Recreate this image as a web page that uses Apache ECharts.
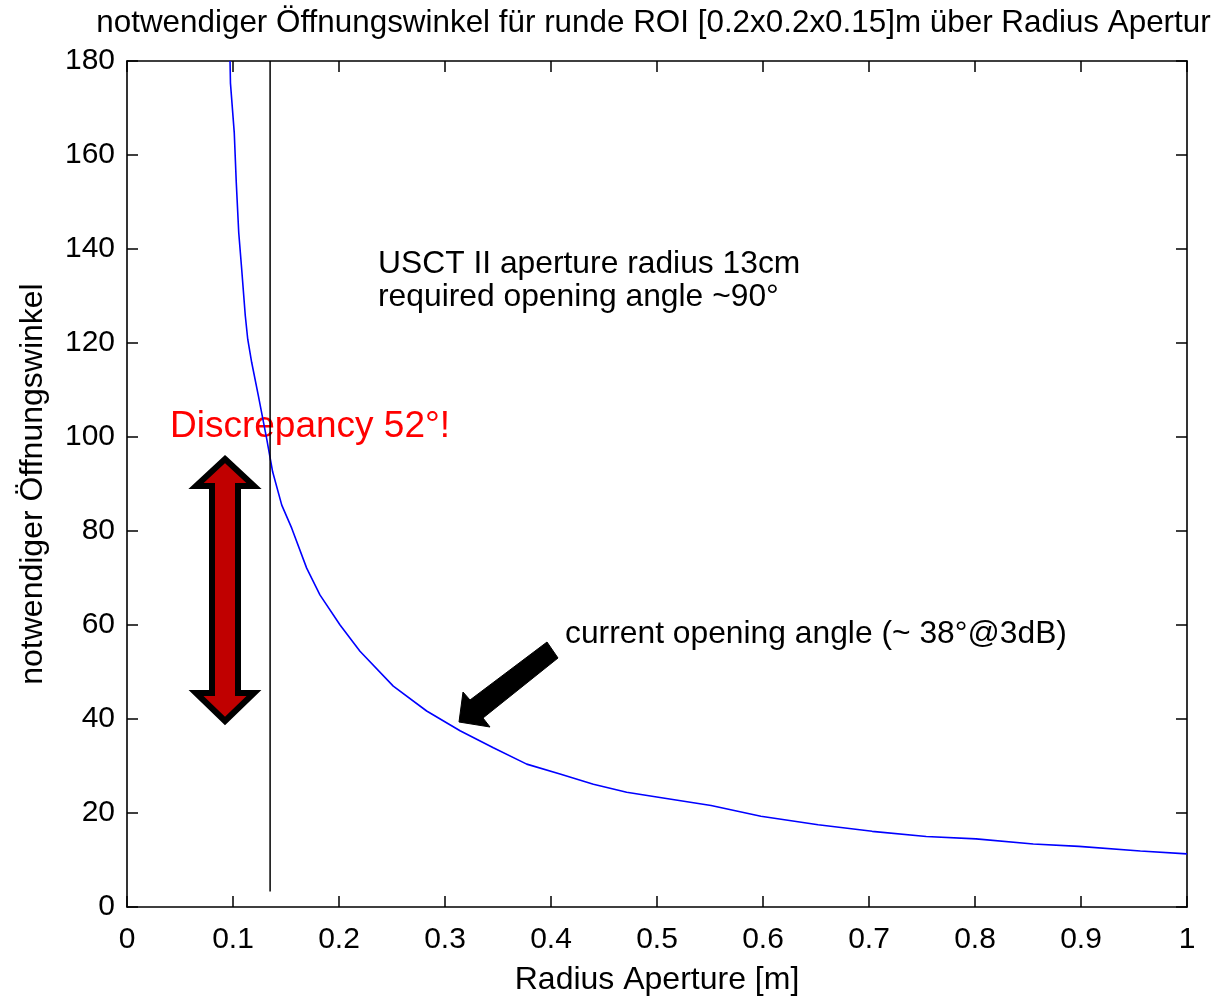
<!DOCTYPE html>
<html>
<head>
<meta charset="utf-8">
<script src="https://cdn.jsdelivr.net/npm/echarts@6/dist/echarts.min.js"></script>
<style>
html,body{margin:0;padding:0;background:#fff;}
#chart{width:1227px;height:1001px;}
</style>
</head>
<body>
<div id="chart"></div>
<script>
// ---- data ----
const radius = [0.0972, 0.0976, 0.1012, 0.1031, 0.1054, 0.1082, 0.1116, 0.1139, 0.1176, 0.1239,
  0.1318, 0.1374, 0.146, 0.1554, 0.1695, 0.182, 0.201, 0.2198, 0.2512, 0.2827,
  0.3142, 0.3456, 0.3771, 0.4085, 0.44, 0.4714, 0.5028, 0.551, 0.598, 0.652,
  0.703, 0.754, 0.801, 0.855, 0.898, 0.956, 1.0];
const angle = [180, 175.3, 164.7, 154.1, 143.5, 135.7, 125.8, 120.8, 115.9, 108.8,
  99.6, 92.6, 85.5, 80.6, 72.1, 66.4, 60.0, 54.4, 47.0, 41.7,
  37.5, 33.9, 30.4, 28.3, 26.1, 24.4, 23.3, 21.6, 19.3, 17.5,
  16.1, 15.0, 14.5, 13.4, 12.9, 11.9, 11.3];
const apertureLineX = [0.135, 0.135];
const apertureLineY = [3.3, 180];

const titleText = 'notwendiger Öffnungswinkel für runde ROI [0.2x0.2x0.15]m über Radius Apertur';
const xName = 'Radius Aperture [m]';
const yName = 'notwendiger Öffnungswinkel';
const noteAperture = ['USCT II aperture radius 13cm', 'required opening angle ~90°'];
const noteDiscrepancy = 'Discrepancy 52°!';
const noteCurrent = 'current opening angle (~ 38°@3dB)';

const curve = radius.map((r, i) => [r, angle[i]]);
const vline = apertureLineX.map((x, i) => [x, apertureLineY[i]]);

const FONT = 'Liberation Sans, Arial, sans-serif';
const TICKFONT = 'Liberation Sans Narrow, Liberation Sans, Arial, sans-serif';

const chart = echarts.init(document.getElementById('chart'), null, {renderer: 'canvas'});

const axisLine = {show: true, onZero: false, lineStyle: {color: '#000', width: 1.6}};
const axisTick = {show: true, inside: true, length: 11, lineStyle: {color: '#000', width: 1.5}};

chart.setOption({
  animation: false,
  backgroundColor: '#fff',
  grid: {left: 127, right: 40, top: 61, bottom: 91, containLabel: false},
  xAxis: [{
    type: 'value', min: 0, max: 1, interval: 0.1, position: 'bottom',
    name: xName, nameLocation: 'middle', nameGap: 57,
    nameTextStyle: {fontFamily: FONT, fontSize: 32, color: '#000'},
    axisLine: axisLine, axisTick: axisTick, splitLine: {show: false},
    axisLabel: {fontFamily: TICKFONT, fontSize: 30, color: '#000', margin: 18}
  }, {
    type: 'value', min: 0, max: 1, interval: 0.1, position: 'top',
    axisLine: axisLine, axisTick: axisTick, splitLine: {show: false},
    axisLabel: {show: false}
  }],
  yAxis: [{
    type: 'value', min: 0, max: 180, interval: 20, position: 'left',
    name: yName, nameLocation: 'middle', nameGap: 78, nameRotate: 90,
    nameTextStyle: {fontFamily: FONT, fontSize: 32, color: '#000'},
    axisLine: axisLine, axisTick: axisTick, splitLine: {show: false},
    axisLabel: {fontFamily: TICKFONT, fontSize: 30, color: '#000', margin: 12}
  }, {
    type: 'value', min: 0, max: 180, interval: 20, position: 'right',
    axisLine: axisLine, axisTick: axisTick, splitLine: {show: false},
    axisLabel: {show: false}
  }],
  series: [{
    type: 'line', data: curve, xAxisIndex: 0, yAxisIndex: 0,
    showSymbol: false, symbol: 'none', smooth: false, z: 5,
    lineStyle: {color: '#0000FF', width: 1.6}
  }, {
    type: 'line', data: vline, xAxisIndex: 0, yAxisIndex: 0,
    showSymbol: false, symbol: 'none', z: 5,
    lineStyle: {color: '#000', width: 1.5}
  }],
  graphic: [
    {type: 'text', x: 653.5, y: 23, z: 10,
     style: {text: titleText, font: '31.4px ' + FONT, fill: '#000', textAlign: 'center', textVerticalAlign: 'middle'}},
    {type: 'text', x: 378, y: 264, z: 10,
     style: {text: noteAperture[0], font: '31.8px ' + FONT, fill: '#000', textAlign: 'left', textVerticalAlign: 'middle'}},
    {type: 'text', x: 378, y: 297, z: 10,
     style: {text: noteAperture[1], font: '31.8px ' + FONT, fill: '#000', textAlign: 'left', textVerticalAlign: 'middle'}},
    {type: 'text', x: 170, y: 427, z: 1,
     style: {text: noteDiscrepancy, font: '37px ' + FONT, fill: '#FF0000', textAlign: 'left', textVerticalAlign: 'middle'}},
    {type: 'text', x: 565, y: 634, z: 10,
     style: {text: noteCurrent, font: '31.8px ' + FONT, fill: '#000', textAlign: 'left', textVerticalAlign: 'middle'}},
    {type: 'polygon', z: 10,
     shape: {points: [[225,459],[254,486],[238,486],[238,693],[254,693],[225,721],[196,693],[212,693],[212,486],[196,486]]},
     style: {fill: '#C00000', stroke: '#000', lineWidth: 6, lineJoin: 'miter'}},
    {type: 'polygon', z: 10,
     shape: {points: [[459,722],[463,692],[470,700],[547,642],[558,658],[483,718],[490,727]]},
     style: {fill: '#000', stroke: '#000', lineWidth: 1}}
  ]
});
</script>
</body>
</html>
